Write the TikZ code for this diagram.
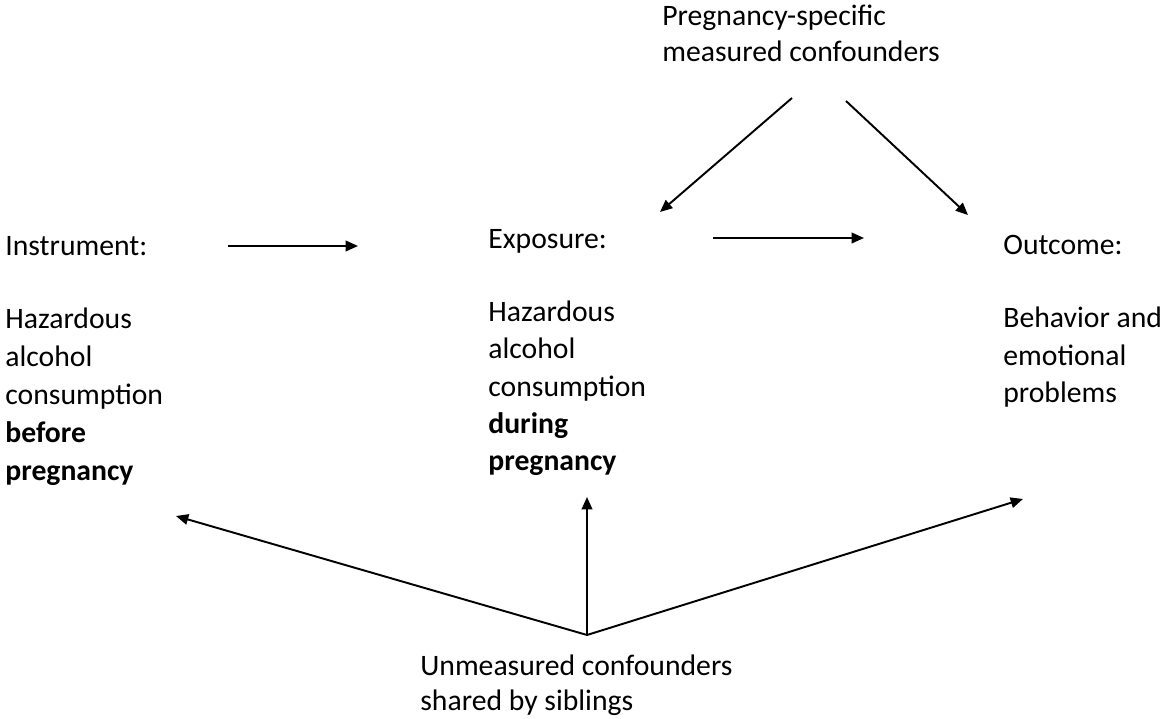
\documentclass[tikz,border=0pt]{standalone}
\usepackage{fontspec}
\setmainfont{Carlito}
\usetikzlibrary{arrows.meta}

\begin{document}
\begin{tikzpicture}[x=0.02cm,y=-0.02cm,
  lbl/.style={anchor=base west,inner sep=0pt,align=left,
    font=\fontsize{16.9}{21.6}\selectfont},
  arr/.style={-{Triangle[length=7pt,width=6pt]},line width=1.1pt}]
  \useasboundingbox (0,0) rectangle (1160,719);

  % the three boxes of text (base = last line)
  \node[lbl] (ins)  at (5,256)   {Instrument:};
  \node[lbl] (insb) at (5,480)   {Hazardous\\alcohol\\consumption\\\textbf{before}\\\textbf{pregnancy}};
  \node[lbl] (exp)  at (488,249) {Exposure:};
  \node[lbl,font=\fontsize{16.9}{21.3}\selectfont] (expb) at (488,471)
    {Hazardous\\alcohol\\consumption\\\textbf{during}\\\textbf{pregnancy}};
  \node[lbl] (out)  at (1003,255) {Outcome:};
  \node[lbl] (outb) at (1003,403) {Behavior and\\emotional\\problems};

  % confounders
  \node[lbl,font=\fontsize{16.9}{21}\selectfont] (psc) at (662,62)
    {Pregnancy-specific\\measured confounders};
  \node[lbl,font=\fontsize{16.9}{19.9}\selectfont] (umc) at (420,710)
    {Unmeasured confounders\\shared by siblings};

  % arrow ends
  \coordinate (psc-l) at (792,98);
  \coordinate (psc-r) at (846,101);
  \coordinate (exp-t) at (660,212);
  \coordinate (out-t) at (968,215);
  \coordinate (ins-r) at (228,246);
  \coordinate (exp-l) at (358,246);
  \coordinate (exp-r) at (713,238);
  \coordinate (out-l) at (864,238);
  \coordinate (umc-t) at (587,635);
  \coordinate (ins-b) at (176,516);
  \coordinate (exp-b) at (587,497);
  \coordinate (out-b) at (1023,499);

  \draw[arr] (psc-l) -- (exp-t);
  \draw[arr] (psc-r) -- (out-t);
  \draw[arr] (ins-r) -- (exp-l);
  \draw[arr] (exp-r) -- (out-l);
  \draw[arr] (umc-t) -- (ins-b);
  \draw[arr] (umc-t) -- (exp-b);
  \draw[arr] (umc-t) -- (out-b);
\end{tikzpicture}
\end{document}
